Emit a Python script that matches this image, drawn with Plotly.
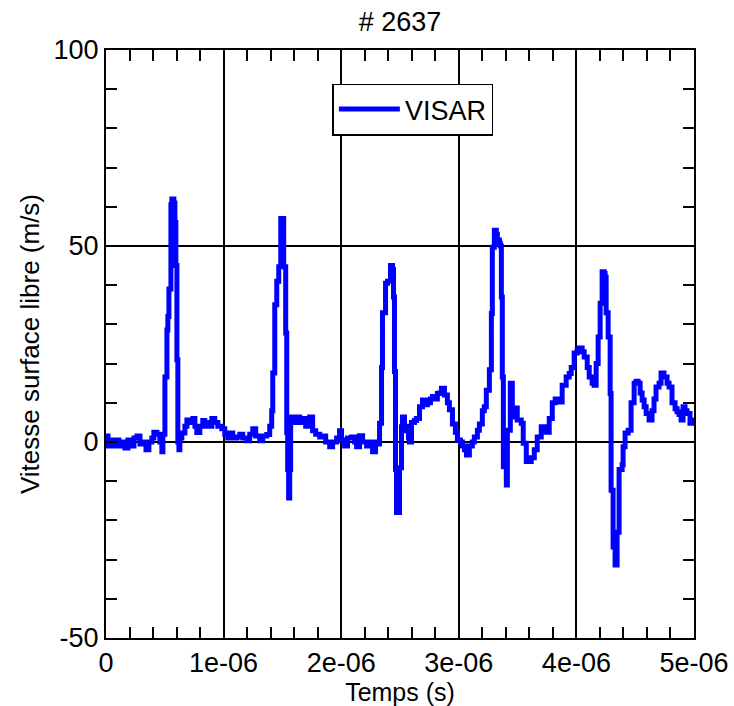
import plotly.graph_objects as go

# VISAR free-surface velocity record, shot #2637 (time in microseconds, velocity in m/s)
time_us = [
    0.000, 0.017, 0.034, 0.059, 0.085, 0.110, 0.136, 0.161, 0.187, 0.212,
    0.238, 0.263, 0.289, 0.314, 0.340, 0.365, 0.390, 0.407, 0.433, 0.458,
    0.475, 0.484, 0.501, 0.518, 0.526, 0.535, 0.552, 0.560, 0.577, 0.586,
    0.594, 0.603, 0.611, 0.620, 0.628, 0.645, 0.671, 0.688, 0.713, 0.739,
    0.756, 0.772, 0.798, 0.823, 0.840, 0.866, 0.900, 0.925, 0.951, 0.985,
    1.010, 1.036, 1.053, 1.078, 1.112, 1.138, 1.163, 1.197, 1.222, 1.248,
    1.273, 1.307, 1.333, 1.367, 1.392, 1.409, 1.418, 1.435, 1.452, 1.469,
    1.486, 1.503, 1.511, 1.528, 1.537, 1.545, 1.553, 1.562, 1.570, 1.596,
    1.621, 1.647, 1.672, 1.698, 1.732, 1.757, 1.783, 1.817, 1.842, 1.868,
    1.902, 1.927, 1.961, 1.986, 2.003, 2.029, 2.054, 2.088, 2.114, 2.131,
    2.156, 2.182, 2.216, 2.241, 2.267, 2.292, 2.309, 2.326, 2.343, 2.351,
    2.377, 2.394, 2.419, 2.436, 2.445, 2.453, 2.462, 2.470, 2.487, 2.496,
    2.513, 2.521, 2.538, 2.555, 2.572, 2.581, 2.598, 2.623, 2.640, 2.666,
    2.691, 2.716, 2.733, 2.759, 2.776, 2.801, 2.818, 2.835, 2.852, 2.878,
    2.903, 2.920, 2.946, 2.971, 2.988, 3.014, 3.031, 3.048, 3.065, 3.090,
    3.115, 3.132, 3.158, 3.175, 3.200, 3.217, 3.234, 3.260, 3.277, 3.285,
    3.302, 3.319, 3.328, 3.345, 3.353, 3.362, 3.370, 3.379, 3.404, 3.413,
    3.438, 3.455, 3.480, 3.497, 3.531, 3.548, 3.574, 3.599, 3.616, 3.642,
    3.667, 3.701, 3.727, 3.744, 3.769, 3.795, 3.820, 3.854, 3.879, 3.913,
    3.939, 3.956, 3.981, 4.007, 4.024, 4.049, 4.066, 4.092, 4.109, 4.134,
    4.151, 4.168, 4.185, 4.202, 4.219, 4.236, 4.244, 4.253, 4.270, 4.287,
    4.295, 4.312, 4.329, 4.346, 4.363, 4.389, 4.397, 4.414, 4.440, 4.465,
    4.491, 4.508, 4.525, 4.542, 4.559, 4.576, 4.593, 4.618, 4.643, 4.660,
    4.677, 4.703, 4.720, 4.745, 4.771, 4.788, 4.813, 4.839, 4.856, 4.873,
    4.890, 4.907, 4.924, 4.941, 4.966, 4.983, 4.992,
]
velocity = [
    1.5, -1.0, 0.5, -1.0, 0.5, -1.0, 0.0, -1.5, 0.5, -1.0,
    1.0, 1.5, -0.5, 0.0, -2.0, 0.0, 1.0, 2.5, 2.0, 0.0,
    -2.5, 2.0, 16.6, 28.6, 32.0, 39.0, 60.5, 62.0, 61.0, 56.0,
    45.0, 21.0, 0.0, -2.0, 1.0, 2.3, 4.0, 5.6, 5.0, 6.0,
    4.0, 2.4, 4.0, 5.5, 5.0, 4.0, 6.0, 5.0, 4.0, 3.4,
    2.0, 1.0, 2.3, 1.0, 1.3, 2.0, 1.0, 0.3, 2.0, 3.4,
    1.5, 0.3, 1.5, 1.9, 4.0, 8.0, 17.6, 35.0, 41.0, 44.7,
    57.0, 57.0, 44.7, 27.8, 2.4, -7.0, -14.3, -7.0, 6.4, 5.0,
    6.4, 5.0, 6.0, 4.0, 6.4, 2.9, 2.0, 1.3, 1.5, 0.0,
    -1.2, 0.0, 1.0, 2.9, 0.5, -1.0, 1.0, 1.3, 0.0, -1.2,
    1.6, 0.0, -1.0, 0.0, -2.5, 0.0, -0.5, 4.8, 19.0, 33.0,
    40.5, 41.0, 45.0, 44.0, 37.0, 18.0, -7.0, -18.0, -18.0, -6.6,
    3.9, 6.4, 4.0, 2.9, 1.0, 0.0, 5.0, 5.5, 6.0, 9.0,
    10.7, 9.5, 10.0, 11.0, 11.6, 11.0, 12.4, 12.5, 13.7, 12.0,
    10.0, 8.2, 4.6, 2.5, 0.5, 0.0, -1.0, -2.0, -3.3, -1.0,
    0.0, 1.3, 3.0, 4.6, 8.0, 9.0, 13.2, 18.4, 32.8, 49.7,
    54.0, 53.0, 51.5, 50.7, 50.0, 37.0, 16.6, -6.3, -11.0, 3.0,
    15.0, 6.4, 8.7, 5.6, 4.8, -0.3, -5.0, -5.0, -4.0, -2.0,
    1.3, 3.9, 3.0, 2.5, 6.0, 10.0, 11.0, 10.2, 14.5, 16.6,
    17.5, 19.0, 22.7, 23.5, 24.0, 23.0, 21.7, 19.0, 16.6, 15.0,
    14.5, 20.0, 26.8, 35.4, 43.4, 43.0, 42.0, 33.0, 26.8, 12.4,
    -12.3, -26.8, -31.4, -23.0, -7.0, -5.8, -1.2, 2.3, 3.0, 10.0,
    15.0, 15.5, 15.0, 12.5, 10.7, 9.0, 7.3, 5.6, 8.0, 11.0,
    14.0, 15.0, 17.6, 16.6, 15.0, 14.0, 10.0, 8.5, 7.7, 7.0,
    5.6, 9.0, 8.0, 7.3, 4.8, 5.6, 5.0,
]

x_tick_vals = [0, 1e-6, 2e-6, 3e-6, 4e-6, 5e-6]
x_tick_text = ["0", "1e-06", "2e-06", "3e-06", "4e-06", "5e-06"]
y_tick_vals = [-50, 0, 50, 100]
y_tick_text = ["-50", "0", "50", "100"]

t_seconds = [v * 1e-6 for v in time_us]
FONT = "Liberation Sans, Arial, Helvetica, sans-serif"

fig = go.Figure()
fig.add_trace(go.Scatter(
    x=t_seconds, y=velocity, mode="lines", name="VISAR",
    line=dict(color="#0000ff", width=5, shape="hv"),
))

axis_common = dict(
    showline=True, linecolor="black", linewidth=2, mirror="allticks",
    showgrid=True, gridcolor="black", gridwidth=1.5, zeroline=False,
    ticks="inside", ticklen=11, tickwidth=1.5, tickcolor="black",
    tickfont=dict(family=FONT, size=27, color="black"),
    automargin=False,
)

fig.update_xaxes(
    range=[0, 5e-6], tickvals=x_tick_vals, ticktext=x_tick_text,
    minor=dict(dtick=0.2e-6, ticks="inside", ticklen=11, tickwidth=1.5,
               tickcolor="black", showgrid=False),
    title=dict(text="Temps (s)", font=dict(family=FONT, size=25, color="black"), standoff=0),
    **axis_common,
)
fig.update_yaxes(
    range=[-50, 100], tickvals=y_tick_vals, ticktext=y_tick_text,
    minor=dict(dtick=10, ticks="inside", ticklen=11, tickwidth=1.5,
               tickcolor="black", showgrid=False),
    title=dict(text="Vitesse surface libre (m/s)", font=dict(family=FONT, size=26, color="black"), standoff=6),
    **axis_common,
)

fig.update_layout(
    width=734, height=706,
    margin=dict(l=106, r=40, t=50, b=68),
    paper_bgcolor="white", plot_bgcolor="white",
    title=dict(text="# 2637", x=0.5, xref="paper", xanchor="center",
               y=1 - 22 / 706, yref="container", yanchor="middle",
               font=dict(family=FONT, size=27, color="black")),
    showlegend=True,
    legend=dict(x=0.385, y=0.943, xanchor="left", yanchor="top", itemwidth=61,
                bgcolor="white", bordercolor="black", borderwidth=1.5,
                font=dict(family=FONT, size=27, color="black")),
)

fig.write_html("out.html")
